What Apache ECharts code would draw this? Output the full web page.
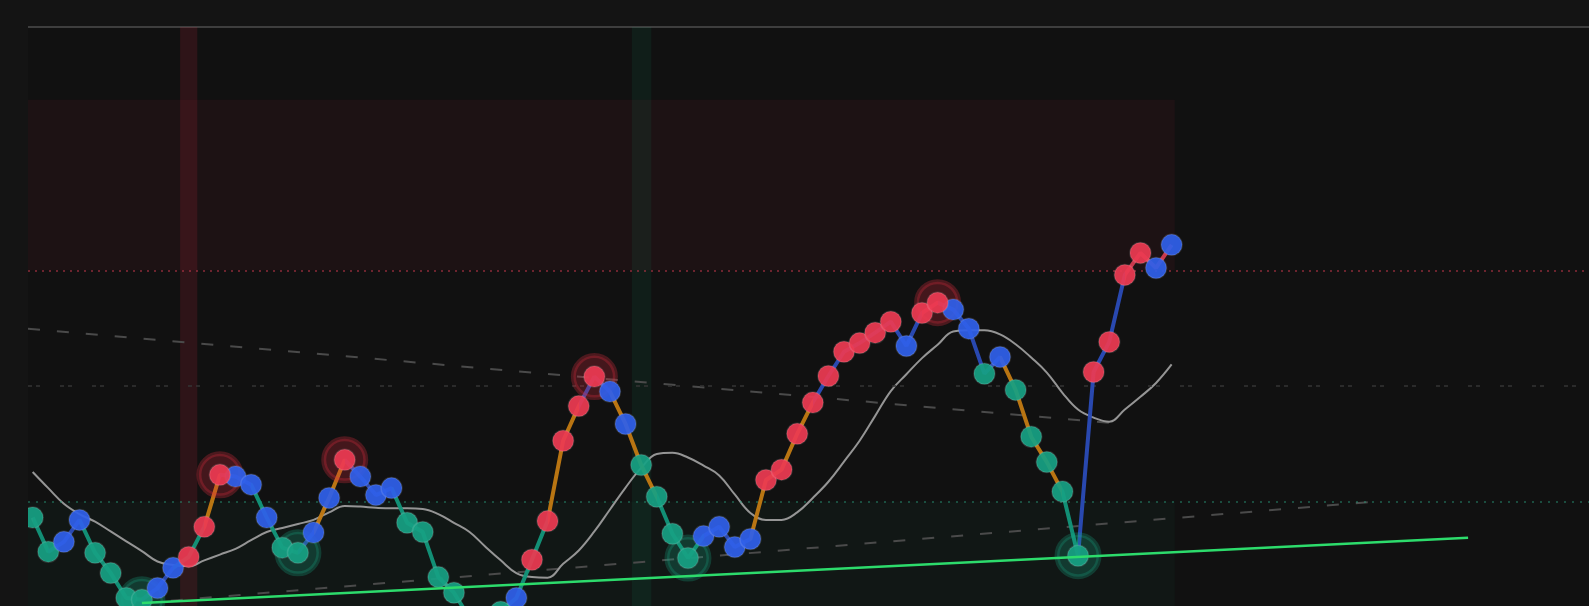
<!DOCTYPE html>
<html><head><meta charset="utf-8">
<script src="https://cdn.jsdelivr.net/npm/echarts@6/dist/echarts.min.js"></script>
<style>html,body{margin:0;padding:0;background:#141414;overflow:hidden}#c{width:1589px;height:606px}</style>
</head><body><div id="c"></div><script>
// ---- data ----
const osc = [27.2,21.3,23.0,26.8,21.1,17.6,13.3,13.0,15.0,18.5,
  20.4,25.6,34.6,34.3,32.9,27.2,22.0,21.1,24.6,30.6,
  37.2,34.3,31.1,32.3,26.3,24.7,16.9,14.2,9.8,9.2,
  10.9,13.3,19.9,26.6,40.5,46.5,51.6,49.0,43.4,36.3,
  30.8,24.4,20.2,24.0,25.6,22.1,23.5,33.7,35.5,41.7,
  47.1,51.7,55.9,57.4,59.2,61.1,56.9,62.6,64.4,63.2,
  59.9,52.1,55.0,49.3,41.2,36.8,31.7,20.6,52.4,57.6,
  69.2,73.0,70.4,74.4];
const oscMA = [35.1,32.3,29.6,27.8,26.5,24.8,23.1,21.4,19.6,19.0,
  18.8,19.8,20.8,21.8,23.3,24.7,25.4,26.1,26.8,28.1,
  29.2,29.1,28.9,28.8,28.8,28.7,27.8,26.3,24.7,22.2,
  19.8,17.6,16.9,16.8,19.2,21.5,24.8,28.6,32.4,35.8,
  38.2,38.4,37.6,36.2,34.5,31.2,28.0,26.8,26.8,28.1,
  30.6,33.4,36.9,40.5,44.8,49.1,52.0,54.8,57.1,59.4,
  59.6,59.6,58.9,57.2,54.9,52.3,48.8,45.9,44.5,43.8,
  45.9,48.1,50.5,53.7];
const pointTone = ['g','g','b','b','g','g','g','g','b','b',
  'r','r','r','b','b','b','g','g','b','b',
  'r','b','b','b','g','g','g','g','g','g',
  'g','b','r','r','r','r','r','b','b','g',
  'g','g','g','b','b','b','b','r','r','r',
  'r','r','r','r','r','r','b','r','r','b',
  'b','g','b','g','g','g','g','g','r','r',
  'r','r','b','b'];
const segTone = ['t','b','b','t','t','t','t','b','b','t',
  't','o','b','b','t','t','t','b','o','o',
  'b','b','b','t','t','t','t','t','t','t',
  't','t','t','o','o','b','b','o','o','o',
  't','t','t','b','b','b','o','o','o','o',
  'b','b','b','b','b','b','b','r','b','b',
  'b','b','o','o','o','o','t','b','b','b',
  'r','r','r'];
const redPeaks = [12, 20, 36, 58];
const greenTroughs = [7, 17, 42, 67];
const levelHigh = 70, levelMid = 50, levelLow = 30;
const zoneTop = 99.5, zoneEnd = 73.2;
const redSignal = 10, greenSignal = 39;
const downTrend = [[-0.3, 59.9], [69, 43.6]];
const upTrendDashed = [[7, 12.4], [85.7, 29.9]];
const supportLine = [[7, 12.4], [92, 23.7]];

// ---- styles ----
const segColor = {o:'#c27a12', b:'#2a4bb8', t:'#12957a', r:'#d23a50'};
const ptColor = {r:'#ec3a52', b:'#2f60ea', g:'#17a083'};

const pieces = [];
let s = 0;
for (let i = 1; i <= segTone.length; i++) {
  if (i === segTone.length || segTone[i] !== segTone[s]) {
    pieces.push({min: s, max: i, color: segColor[segTone[s]]});
    s = i;
  }
}
const xy = i => [i, osc[i]];
const idx = osc.map((_, i) => i);

const chart = echarts.init(document.getElementById('c'), null, {renderer:'canvas'});
const pointSeries = ['g','b','r'].map(t => ({
  type:'scatter', z:7, symbolSize:21, clip:false,
  data: idx.filter(i => pointTone[i] === t).map(xy),
  itemStyle:{color: ptColor[t], opacity:0.93, borderColor:'rgba(255,255,255,0.14)', borderWidth:1.5}
}));

chart.setOption({
  animation:false,
  backgroundColor:'#141414',
  grid:{left:28, right:0, top:27, bottom:0, show:true, backgroundColor:'#111111', borderWidth:0},
  xAxis:{type:'value', min:-0.3, max:99.75, position:'top',
    axisLine:{show:true, onZero:false, lineStyle:{color:'#3e3e3e', width:2}},
    axisTick:{show:false}, axisLabel:{show:false}, splitLine:{show:false}},
  yAxis:{type:'value', min:11.9, max:112.1, axisLine:{show:false}, axisTick:{show:false},
    axisLabel:{show:false}, splitLine:{show:false}},
  visualMap:{show:false, type:'piecewise', seriesIndex:3, dimension:0, pieces:pieces, outOfRange:{color:'#888'}},
  graphic:[{type:'rect', left:0, top:0, z:100, shape:{width:28, height:606}, style:{fill:'#141414'}}],
  series:[
    {type:'line', z:1, data:[], silent:true,
      markArea:{silent:true, data:[
        [{coord:[-0.3, levelHigh], itemStyle:{color:'rgba(220,40,60,0.06)'}}, {coord:[zoneEnd, zoneTop]}],
        [{coord:[-0.3, 11.9], itemStyle:{color:'rgba(16,185,129,0.035)'}}, {coord:[zoneEnd, levelLow]}],
        [{xAxis:redSignal-0.55, itemStyle:{color:'rgba(200,40,60,0.16)'}}, {xAxis:redSignal+0.55}],
        [{xAxis:greenSignal-0.6, itemStyle:{color:'rgba(16,185,129,0.08)'}}, {xAxis:greenSignal+0.65}]
      ]},
      markLine:{silent:true, symbol:'none', label:{show:false}, data:[
        {yAxis:levelHigh, lineStyle:{color:'rgba(200,55,75,0.5)', width:2, type:[2,5]}},
        {yAxis:levelMid, lineStyle:{color:'#343434', width:1.5, type:[4,4,4,20]}},
        {yAxis:levelLow, lineStyle:{color:'rgba(40,150,120,0.45)', width:2, type:[2,6]}}
      ]}
    },
    {type:'line', z:3, data:downTrend, showSymbol:false, silent:true,
      lineStyle:{color:'#4a4a4a', width:2, type:[12,17]}},
    {type:'line', z:3, data:upTrendDashed, showSymbol:false, silent:true,
      lineStyle:{color:'#4a4a4a', width:2, type:[12,17]}},
    {type:'line', z:5, data:idx.map(xy), showSymbol:false, silent:true,
      lineStyle:{width:4, opacity:0.95}},
    {type:'line', z:4, data:idx.map(i => [i, oscMA[i]]), showSymbol:false, silent:true, smooth:0.4,
      lineStyle:{color:'#959595', width:2}},
    {type:'scatter', z:6, symbolSize:42, clip:false, data:redPeaks.map(xy),
      itemStyle:{color:'rgba(230,45,65,0.3)', borderColor:'rgba(230,45,65,0.35)', borderWidth:5}},
    {type:'scatter', z:6, symbolSize:42, clip:false, data:greenTroughs.map(xy),
      itemStyle:{color:'rgba(25,170,135,0.3)', borderColor:'rgba(25,170,135,0.32)', borderWidth:5}},
    ...pointSeries,
    {type:'line', z:8, data:supportLine, showSymbol:false, silent:true,
      lineStyle:{color:'#2ddc6c', width:2.5}}
  ]
});
</script></body></html>
